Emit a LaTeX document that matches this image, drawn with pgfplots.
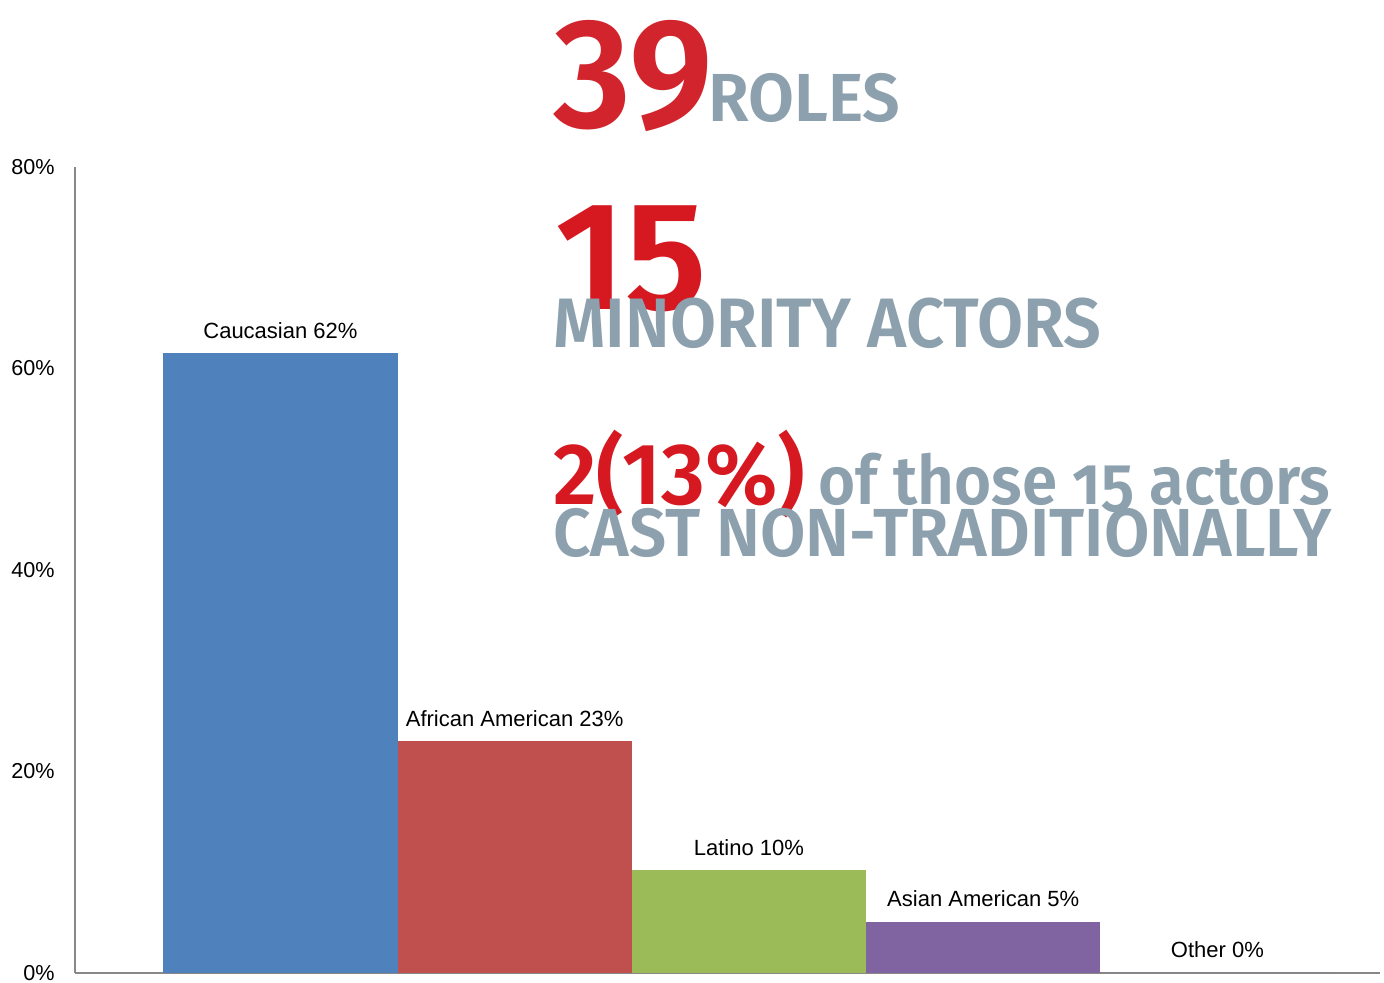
\documentclass[border=0pt]{standalone}
\usepackage{fontspec}
\setmainfont{Liberation Sans}
\newfontfamily\fira{Fira Sans SemiBold}
\newfontfamily\firaold[Numbers=OldStyle]{Fira Sans SemiBold}
\usepackage{pgfplots}
\pgfplotsset{compat=1.18}
\definecolor{cblue}{RGB}{79,129,189}
\definecolor{cred}{RGB}{192,80,77}
\definecolor{cgreen}{RGB}{155,187,89}
\definecolor{cpurple}{RGB}{128,100,162}
\definecolor{axisgray}{RGB}{136,136,136}
\definecolor{bigred}{RGB}{210,36,44}
\definecolor{bigred2}{RGB}{214,24,33}
\definecolor{biggray}{RGB}{140,160,173}
\begin{document}
\begin{tikzpicture}
\useasboundingbox (0,0) rectangle (692pt,491.5pt);
\begin{axis}[at={(37.5pt,5pt)}, anchor=south west, scale only axis,
  width=652.5pt, height=403pt,
  xmin=-0.877, xmax=4.694, ymin=0, ymax=80,
  axis x line=bottom, axis y line=left,
  axis line style={-, draw=axisgray, line width=0.75pt},
  xtick=\empty, ytick={0,20,40,60,80},
  yticklabels={0\%,20\%,40\%,60\%,80\%},
  major tick length=0pt,
  yticklabel style={font=\fontsize{10.8}{12}\selectfont, inner sep=0pt, anchor=east, xshift=-10pt},
  ybar, bar width=1, bar shift=0pt,
  point meta=explicit symbolic,
  nodes near coords,
  nodes near coords style={font=\fontsize{11}{12}\selectfont, anchor=base, inner sep=0pt, yshift=7.5pt, text=black},
  clip=false]
\addplot[fill=cblue, draw=none] coordinates {(0,61.5) [Caucasian 62\%]};
\addplot[fill=cred, draw=none] coordinates {(1,23.0) [African American 23\%]};
\addplot[fill=cgreen, draw=none] coordinates {(2,10.2) [Latino 10\%]};
\addplot[fill=cpurple, draw=none] coordinates {(3,5.1) [Asian American 5\%]};
\addplot[fill=cpurple, draw=none] coordinates {(4,0) [Other 0\%]};
\end{axis}
\begin{scope}[x=0.5pt, y=-0.5pt, shift={(0pt,491.5pt)}, every node/.style={inner sep=0pt, anchor=base west}]
\node[text=bigred] at (553,128) {\resizebox{80pt}{\height}{\fira\fontsize{78}{78}\selectfont 39}};
\node[text=biggray] at (708,122) {\resizebox{96pt}{\height}{\fira\fontsize{34}{34}\selectfont ROLES}};
\node[text=bigred2] at (555,310) {\resizebox{76pt}{\height}{\fira\fontsize{77}{77}\selectfont 15}};
\node[text=biggray] at (553,348) {\resizebox{274pt}{\height}{\fira\fontsize{35}{35}\selectfont MINORITY ACTORS}};
\node[text=bigred2] at (553,505) {\resizebox{126pt}{\height}{\fira\fontsize{43.5}{43.5}\selectfont 2(13\%)}};
\node[text=biggray] at (818,505) {\resizebox{256pt}{\height}{\firaold\fontsize{34}{34}\selectfont of those 15 actors}};
\node[text=biggray] at (553,557) {\resizebox{389pt}{\height}{\fira\fontsize{34}{34}\selectfont CAST NON-TRADITIONALLY}};
\end{scope}
\end{tikzpicture}
\end{document}
